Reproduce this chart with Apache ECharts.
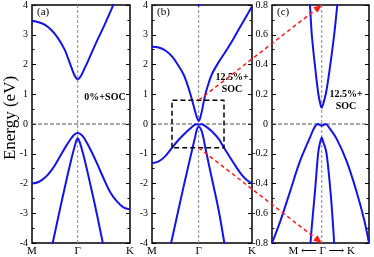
<!DOCTYPE html>
<html><head><meta charset="utf-8">
<script src="https://cdn.jsdelivr.net/npm/echarts@6/dist/echarts.min.js"></script>
<style>html,body{margin:0;padding:0;background:#fff}#c{width:374px;height:257px}</style>
</head><body><div id="c"></div>
<script>
// k-path units: M = 0, Γ = 7, K = 15
const kLabels = {0: 'M', 7: 'Γ', 15: 'K'};
const yTicksAB = [-4, 4, 1];
const yTicksC = [-0.8, 0.8, 0.2];
const zoomK = [3, 10.8];
const zoomE = [-0.8, 0.8];

// panel (a) 0% + SOC
const a_cb = [[0,3.46],[1,3.42],[2,3.33],[3,3.15],[4,2.88],[5,2.5],[5.5,2.22],[6,1.92],[6.5,1.64],[7,1.5],[7.5,1.62],[8,1.85],[8.5,2.08],[9,2.33],[10,2.82],[11,3.28],[12,3.78],[12.6,4.08]];
const a_vb1 = [[0,-2.0],[1,-1.95],[2,-1.8],[3,-1.55],[4,-1.2],[5,-0.82],[6,-0.48],[6.5,-0.35],[7,-0.3],[7.5,-0.35],[8,-0.48],[9,-0.88],[10,-1.35],[11,-1.85],[12,-2.3],[13,-2.6],[14,-2.8],[15,-2.87]];
const a_vb2 = [[3.1,-4.07],[4,-3.15],[5,-2.15],[6,-1.2],[6.5,-0.78],[6.8,-0.55],[7,-0.48],[7.2,-0.55],[7.5,-0.75],[8,-1.15],[9,-2.1],[10,-3.1],[10.9,-4.07]];

// panel (b) 12.5% + SOC
const b_cb = [[0,2.6],[1,2.57],[2,2.47],[3,2.27],[4,1.95],[4.7,1.68],[5.2,1.4],[5.7,1.05],[6.2,0.65],[6.5,0.4],[6.8,0.18],[7,0.1],[7.2,0.18],[7.5,0.45],[7.95,0.95],[8.5,1.38],[9,1.68],[10,2.08],[11,2.42],[12,2.78],[13,3.18],[14,3.56],[15,3.95]];
const b_top = [[6.7,4.12],[7,3.97],[7.3,4.12]];
const b_vb1 = [[0,-1.32],[1,-1.26],[2,-1.08],[3,-0.8],[4,-0.53],[5,-0.3],[6,-0.1],[6.6,-0.01],[7,-0.02],[7.4,-0.01],[8,-0.07],[9,-0.25],[10,-0.5],[10.8,-0.8],[11.5,-1.05],[12.5,-1.4],[13.5,-1.72],[14.3,-1.9],[15,-1.99]];
const b_vb2 = [[2.8,-4.07],[4,-2.85],[5,-1.85],[6,-0.88],[6.46,-0.45],[6.72,-0.19],[7,-0.09],[7.37,-0.19],[7.7,-0.45],[8,-0.8],[9,-1.85],[10,-2.9],[10.9,-4.07]];

// panel (c) zoom around Γ
const c_cb = [[6.0,0.85],[6.06,0.79],[6.2,0.6],[6.47,0.38],[6.73,0.2],[6.9,0.13],[7,0.11],[7.1,0.13],[7.37,0.22],[7.77,0.45],[8.0,0.6],[8.25,0.8],[8.3,0.85]];
const c_vb1 = [[3,-0.8],[3.64,-0.66],[4.45,-0.455],[5.25,-0.25],[6.06,-0.09],[6.4,-0.025],[6.7,0.0],[7,-0.012],[7.3,0.0],[7.6,-0.025],[8.2,-0.1],[9.0,-0.25],[9.8,-0.455],[10.4,-0.64],[10.8,-0.8]];
const c_vb2 = [[6.08,-0.82],[6.19,-0.7],[6.46,-0.45],[6.72,-0.19],[6.88,-0.12],[7,-0.09],[7.12,-0.12],[7.37,-0.19],[7.7,-0.45],[7.9,-0.67],[8.0,-0.8],[8.02,-0.82]];

const BLUE = '#1414e6';
const SERIF = '"Liberation Serif","DejaVu Serif",serif';
const chart = echarts.init(document.getElementById('c'), null, {renderer: 'canvas'});

const grids = [
  {left: 32, top: 4, width: 98, height: 239.5},
  {left: 152, top: 4, width: 100, height: 239.5},
  {left: 272, top: 4, width: 97, height: 239.5}
].map(g => Object.assign(g, {show: true, borderColor: '#000', borderWidth: 1.5, backgroundColor: 'transparent'}));

function xAx(gi, min, max, fmt) {
  return {type: 'value', gridIndex: gi, min: min, max: max, interval: 1,
    axisLine: {show: false}, axisTick: {show: false}, splitLine: {show: false},
    axisLabel: {formatter: fmt, fontFamily: SERIF, fontSize: 11, color: '#000', margin: 3,
      showMinLabel: true, showMaxLabel: true, hideOverlap: false}};
}
function yAx(gi, t, pos, labels) {
  return {type: 'value', gridIndex: gi, position: pos, min: t[0], max: t[1], interval: t[2],
    axisLine: {show: false}, splitLine: {show: false},
    axisTick: {show: true, inside: true, length: 4, lineStyle: {color: '#000', width: 1}},
    minorTick: {show: true, splitNumber: 2, length: 2.5, lineStyle: {color: '#000', width: 1}},
    axisLabel: {show: labels, fontFamily: SERIF, fontSize: 10, color: '#000', margin: 4,
      formatter: v => String(Math.round(v * 10) / 10)}};
}
const abFmt = v => kLabels[v] || '';
const cFmt = v => v === 7 ? 'M ⟵ Γ ⟶ K' : '';

const xAxis = [xAx(0, 0, 15, abFmt), xAx(1, 0, 15, abFmt), xAx(2, zoomK[0], zoomK[1], cFmt)];
const yAxis = [yAx(0, yTicksAB, 'left', true), yAx(0, yTicksAB, 'right', false),
               yAx(1, yTicksAB, 'left', true), yAx(1, yTicksAB, 'right', false),
               yAx(2, yTicksC, 'left', true), yAx(2, yTicksC, 'right', false)];

const series = [];
function guide(gi, data, color, dash) {
  series.push({type: 'line', xAxisIndex: gi, yAxisIndex: gi * 2, data: data, symbol: 'none', silent: true,
    lineStyle: {color: color, width: 1, type: dash}, z: 1, animation: false});
}
function band(gi, data) {
  series.push({type: 'line', xAxisIndex: gi, yAxisIndex: gi * 2, data: data, symbol: 'none', smooth: 0.35,
    lineStyle: {color: BLUE, width: 2}, z: 3, animation: false, clip: true});
}
guide(0, [[7, -4], [7, 4]], '#888', [3, 2]);
guide(0, [[0, 0], [15, 0]], '#555', [4, 2]);
guide(1, [[7, -4], [7, 4]], '#888', [3, 2]);
guide(1, [[0, 0], [15, 0]], '#555', [4, 2]);
guide(2, [[7, -0.8], [7, 0.8]], '#888', [3, 2]);
guide(2, [[3, 0], [10.8, 0]], '#555', [4, 2]);
band(0, a_cb); band(0, a_vb1); band(0, a_vb2);
band(1, b_cb); band(1, b_top); band(1, b_vb1); band(1, b_vb2);
band(2, c_cb); band(2, c_vb1); band(2, c_vb2);
// dashed zoom box in panel (b)
series.push({type: 'line', xAxisIndex: 1, yAxisIndex: 2, symbol: 'none', silent: true, z: 4, animation: false,
  data: [[zoomK[0], zoomE[0]], [zoomK[0], zoomE[1]], [zoomK[1], zoomE[1]], [zoomK[1], zoomE[0]], [zoomK[0], zoomE[0]]],
  lineStyle: {color: '#000', width: 1.5, type: [5, 3]}});

chart.setOption({animation: false, grid: grids, xAxis: xAxis, yAxis: yAxis, series: series});

function arrow(p, q) {
  const dx = q[0] - p[0], dy = q[1] - p[1], L = Math.hypot(dx, dy), ux = dx / L, uy = dy / L;
  const hl = 8, hw = 3.5;
  const bx = q[0] - ux * hl, by = q[1] - uy * hl;
  return [
    {type: 'line', shape: {x1: p[0], y1: p[1], x2: bx, y2: by}, style: {stroke: '#ff1a1a', lineWidth: 1.5, lineDash: [4, 3]}, z: 10},
    {type: 'polygon', shape: {points: [[q[0], q[1]], [bx - uy * hw, by + ux * hw], [bx + uy * hw, by - ux * hw]]}, style: {fill: '#ff1a1a'}, z: 10}
  ];
}
const pTopB = chart.convertToPixel({gridIndex: 1}, [7, zoomE[1]]);
const pTopC = chart.convertToPixel({gridIndex: 2}, [7, zoomE[1]]);
const pBotB = chart.convertToPixel({gridIndex: 1}, [7, zoomE[0]]);
const pBotC = chart.convertToPixel({gridIndex: 2}, [7, zoomE[0]]);

const txt = (x, y, s, size, bold, align) => ({type: 'text', x: x, y: y, z: 8,
  style: {text: s, font: (bold ? 'bold ' : '') + size + 'px ' + SERIF, fill: '#000', align: align || 'left', verticalAlign: 'middle', lineHeight: size + 2}});

const graphic = [
  {type: 'text', x: 11, y: 118, rotation: Math.PI / 2, z: 8,
   style: {text: 'Energy (eV)', font: '17px ' + SERIF, fill: '#000', align: 'center', verticalAlign: 'middle'}},
  txt(37, 12, '(a)', 11), txt(157, 12, '(b)', 11), txt(277, 12, '(c)', 11),
  txt(105, 97, '0%+SOC', 10, true, 'center'),
  txt(232, 83, '12.5%+\nSOC', 10, true, 'center'),
  txt(346, 100, '12.5%+\nSOC', 10, true, 'center')
].concat(arrow(pTopB, pTopC), arrow(pBotB, pBotC));
chart.setOption({graphic: graphic});
</script></body></html>
